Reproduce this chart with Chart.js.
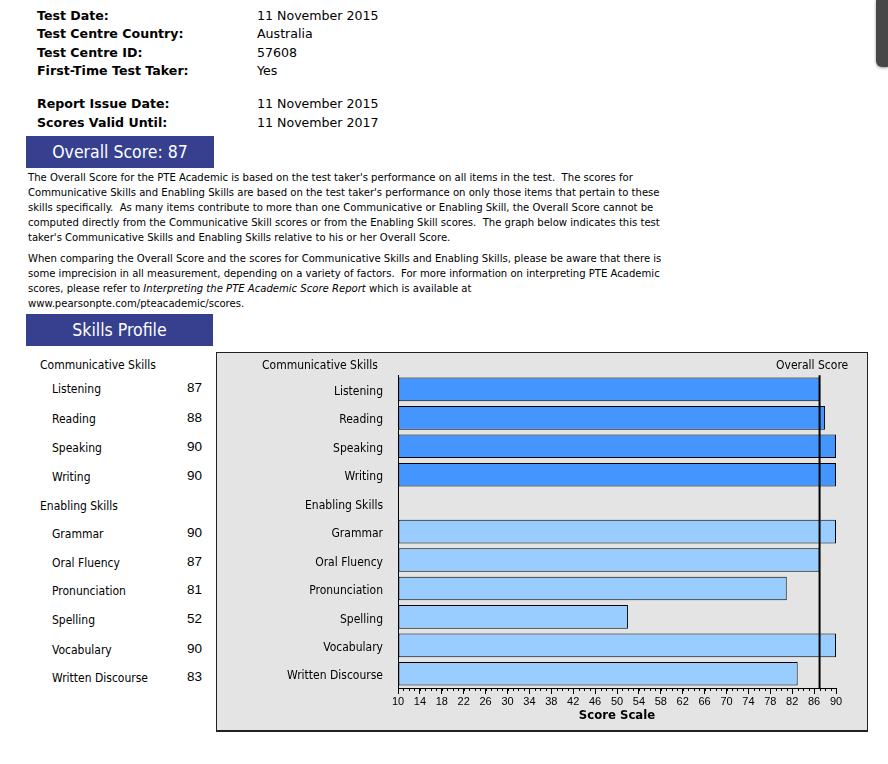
<!DOCTYPE html>
<html>
<head>
<meta charset="utf-8">
<script src="https://cdn.jsdelivr.net/npm/chart.js@4.4.1/dist/chart.umd.min.js"></script>
<style>
  body { margin: 0; background: #fff; width: 888px; height: 764px; position: relative; overflow: hidden; }
  .abs { position: absolute; white-space: nowrap; }
  .hdr { font-family: "DejaVu Sans", Verdana, sans-serif; font-size: 12.6px; color: #000; line-height: 14px; }
  .hdr b { font-weight: bold; }
  .tah { font-family: "DejaVu Sans Condensed", "DejaVu Sans", sans-serif; color: #000; }
  .banner { position: absolute; background: #36408f; color: #fff; text-align: center;
            font-family: "DejaVu Sans Condensed", "DejaVu Sans", sans-serif; font-size: 17.5px; }
  .para { font-family: "DejaVu Sans Condensed", "DejaVu Sans", sans-serif; font-size: 11.2px; line-height: 15px; color: #000; }
  .num { font-family: "Liberation Sans", Arial, sans-serif; font-size: 13.5px; color: #000; text-align: right; width: 40px; }
  #box { position: absolute; left: 216px; top: 352px; width: 650px; height: 377px; border: 1px solid #222; border-bottom-width: 2px; background: #e4e4e4; }
  #wrap { position: absolute; left: 217px; top: 353px; width: 650px; height: 377px; }
</style>
</head>
<body>
<div class="hdr">
  <div class="abs" style="left:37px;top:9px"><b>Test Date:</b></div>
  <div class="abs" style="left:37px;top:27px"><b>Test Centre Country:</b></div>
  <div class="abs" style="left:37px;top:46px"><b>Test Centre ID:</b></div>
  <div class="abs" style="left:37px;top:64px"><b>First-Time Test Taker:</b></div>
  <div class="abs" style="left:37px;top:97px"><b>Report Issue Date:</b></div>
  <div class="abs" style="left:37px;top:116px"><b>Scores Valid Until:</b></div>
  <div class="abs" style="left:257px;top:9px">11 November 2015</div>
  <div class="abs" style="left:257px;top:27px">Australia</div>
  <div class="abs" style="left:257px;top:46px">57608</div>
  <div class="abs" style="left:257px;top:64px">Yes</div>
  <div class="abs" style="left:257px;top:97px">11 November 2015</div>
  <div class="abs" style="left:257px;top:116px">11 November 2017</div>
</div>

<div class="banner" style="left:26px;top:136px;width:188px;height:32px;line-height:32px">Overall Score: 87</div>

<div class="abs para" style="left:28px;top:170px">
The Overall Score for the PTE Academic is based on the test taker's performance on all items in the test.&nbsp; The scores for<br>
Communicative Skills and Enabling Skills are based on the test taker's performance on only those items that pertain to these<br>
skills specifically.&nbsp; As many items contribute to more than one Communicative or Enabling Skill, the Overall Score cannot be<br>
computed directly from the Communicative Skill scores or from the Enabling Skill scores.&nbsp; The graph below indicates this test<br>
taker's Communicative Skills and Enabling Skills relative to his or her Overall Score.
</div>
<div class="abs para" style="left:28px;top:251px">
When comparing the Overall Score and the scores for Communicative Skills and Enabling Skills, please be aware that there is<br>
some imprecision in all measurement, depending on a variety of factors.&nbsp; For more information on interpreting PTE Academic<br>
scores, please refer to <i>Interpreting the PTE Academic Score Report</i> which is available at<br>
www.pearsonpte.com/pteacademic/scores.
</div>

<div class="banner" style="left:26px;top:314px;width:187px;height:32px;line-height:32px">Skills Profile</div>

<div id="left" class="tah" style="font-size:12px"></div>

<div id="box"></div>
<div id="wrap"><canvas id="chart" width="650" height="377"></canvas></div>
<div class="abs tah" style="left:262px;top:358px;font-size:12px">Communicative Skills</div>
<div class="abs tah" style="left:776px;top:358px;font-size:12px">Overall Score</div>

<div class="abs" style="left:876px;top:0;width:12px;height:67px;background:#474747;border-radius:0 0 0 6px;box-shadow:0 1px 3px rgba(0,0,0,.4)"></div>

<script>
const overallScore = 87;
const communicativeSkills = ['Listening', 'Reading', 'Speaking', 'Writing'];
const communicativeScores = [87, 88, 90, 90];
const enablingSkills = ['Grammar', 'Oral Fluency', 'Pronunciation', 'Spelling', 'Vocabulary', 'Written Discourse'];
const enablingScores = [90, 87, 81, 52, 90, 83];
const scoreTicks = [10, 14, 18, 22, 26, 30, 34, 38, 42, 46, 50, 54, 58, 62, 66, 70, 74, 78, 82, 86, 90];

const categories = [...communicativeSkills, 'Enabling Skills', ...enablingSkills];
const values = [...communicativeScores, null, ...enablingScores];
const colors = [...communicativeScores.map(() => '#4595ff'), 'rgba(0,0,0,0)', ...enablingScores.map(() => '#99ccff')];

// left-hand score list
const left = document.getElementById('left');
let html = '';
const leftRows = [
  { text: 'Communicative Skills', y: 358, x: 40 },
  ...communicativeSkills.map((s, i) => ({ text: s, num: communicativeScores[i], y: [382, 412, 441, 470][i], x: 52 })),
  { text: 'Enabling Skills', y: 499, x: 40 },
  ...enablingSkills.map((s, i) => ({ text: s, num: enablingScores[i], y: [527, 556, 584, 613, 643, 671][i], x: 52 }))
];
leftRows.forEach(r => {
  html += `<div class="abs" style="left:${r.x}px;top:${r.y}px">${r.text}</div>`;
  if (r.num !== undefined) html += `<div class="abs num" style="left:162px;top:${r.y - 2}px">${r.num}</div>`;
});
left.innerHTML = html;

const extras = {
  id: 'extras',
  afterDatasetsDraw(chart) {
    const { ctx, chartArea, scales } = chart;
    const x = scales.x;
    ctx.save();
    // minor ticks every point
    ctx.strokeStyle = '#000';
    ctx.lineWidth = 1;
    ctx.beginPath();
    for (let v = x.min; v <= x.max; v++) {
      const px = Math.round(x.getPixelForValue(v)) + 0.5;
      ctx.moveTo(px, chartArea.bottom);
      ctx.lineTo(px, chartArea.bottom + 3);
    }
    ctx.stroke();
    // overall score line
    const ox = x.getPixelForValue(overallScore);
    ctx.lineWidth = 2;
    ctx.beginPath();
    ctx.moveTo(ox, chartArea.top);
    ctx.lineTo(ox, chartArea.bottom);
    ctx.stroke();
    ctx.restore();
  }
};

new Chart(document.getElementById('chart'), {
  type: 'bar',
  data: {
    labels: categories,
    datasets: [{
      data: values,
      base: 10,
      backgroundColor: colors,
      borderColor: '#000',
      borderWidth: 1,
      borderSkipped: false,
      barPercentage: 0.83,
      categoryPercentage: 1
    }]
  },
  options: {
    indexAxis: 'y',
    responsive: false,
    animation: false,
    layout: { padding: { top: 20, right: 31, left: 0, bottom: 0 } },
    plugins: { legend: { display: false }, tooltip: { enabled: false } },
    scales: {
      y: {
        grid: { display: false, drawTicks: false },
        border: { display: true, color: '#000', width: 1 },
        ticks: {
          padding: 15,
          labelOffset: 2.5,
          color: '#000',
          font: { family: '"DejaVu Sans Condensed", "DejaVu Sans", sans-serif', size: 12 }
        },
        afterFit(scale) { scale.width = 181; }
      },
      x: {
        min: 10,
        max: 90,
        afterBuildTicks(scale) { scale.ticks = scoreTicks.map(v => ({ value: v })); },
        grid: { drawOnChartArea: false, drawTicks: true, tickLength: 6, color: '#000' },
        border: { display: true, color: '#000', width: 1 },
        ticks: {
          autoSkip: false,
          maxRotation: 0,
          padding: 1,
          color: '#000',
          font: { family: '"Liberation Sans", Arial, sans-serif', size: 11 }
        },
        title: {
          display: true,
          text: 'Score Scale',
          color: '#000',
          padding: { top: 0, bottom: 7 },
          font: { family: '"DejaVu Sans Condensed", "DejaVu Sans", sans-serif', size: 13, weight: 'bold' }
        },
        afterFit(scale) { scale.height = 42; }
      }
    }
  },
  plugins: [extras]
});
</script>
</body>
</html>
